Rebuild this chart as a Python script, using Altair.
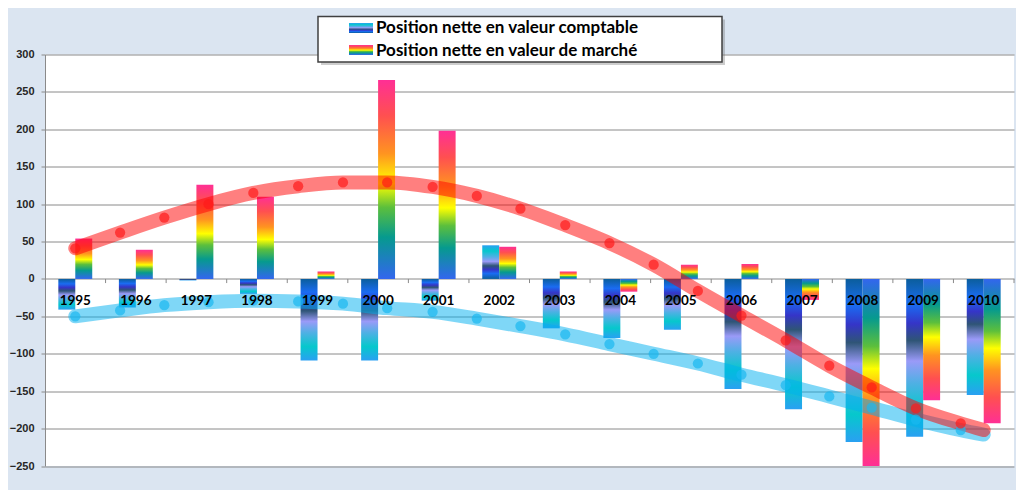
import altair as alt
import pandas as pd

# values
years = [1995, 1996, 1997, 1998, 1999, 2000, 2001, 2002,
         2003, 2004, 2005, 2006, 2007, 2008, 2009, 2010]
comptable = [-41, -38, -2, -20, -109, -109, -29, 45,
             -66, -79, -68, -147, -174, -218, -211, -155]
marche = [54, 39, 126, 110, 10, 266, 198, 43,
          10, -17, 19, 20, -28, -250, -162, -193]

# smoothed trend curves (dots along the curve)
trend_x = [1995.0, 1995.74, 1996.47, 1997.2, 1997.94, 1998.68, 1999.42, 2000.15,
           2000.9, 2001.63, 2002.35, 2003.09, 2003.82, 2004.55, 2005.28, 2006.0,
           2006.73, 2007.45, 2008.15, 2008.88, 2009.62, 2010.0]
trend_marche = [41, 62, 82, 100, 115, 124, 129, 129, 123, 111, 94, 72,
                48, 19, -16, -49, -82, -116, -145, -173, -193, -202]
trend_comptable = [-50, -42, -35, -31, -29, -30, -33, -39, -44, -53, -63, -74,
                   -87, -100, -113, -128, -142, -157, -172, -188, -202, -208]

y_ticks = [-250, -200, -150, -100, -50, 0, 50, 100, 150, 200, 250, 300]
labels = ["Position nette en valeur comptable", "Position nette en valeur de marché"]

FONT = "Lato, Liberation Sans, sans-serif"
GRID = "#8a8a8a"

BLUE_STOPS = [(0, "#0b5e9c"), (0.16, "#1a6cf2"), (0.28, "#3535c8"), (0.39, "#2f5576"),
              (0.52, "#9a9af8"), (0.66, "#4fb0e4"), (0.83, "#06c8cc"), (1, "#2aa0f2")]
RAINBOW_STOPS = [(0, "#3366ee"), (0.21, "#069a8e"), (0.36, "#5cbf3c"), (0.48, "#ffff00"),
                 (0.63, "#ff9420"), (0.82, "#ff5050"), (1, "#ff2f95")]


def gradient(stops, base_at_top):
    # gradient runs from the zero line out to the tip of the bar
    y1 = 0 if base_at_top else 1
    return alt.LinearGradient(
        gradient="linear", x1=0, x2=0, y1=y1, y2=1 - y1,
        stops=[alt.GradientStop(offset=o, color=c) for o, c in stops])


bars = pd.DataFrame({"year": years * 2,
                     "value": comptable + marche,
                     "series": ["comptable"] * 16 + ["marche"] * 16})
trend = pd.DataFrame({"x": trend_x * 2,
                      "value": trend_comptable + trend_marche,
                      "series": ["comptable"] * 22 + ["marche"] * 22})
cats = pd.DataFrame({"year": years})

x_scale = alt.Scale(domain=[1994.5, 2010.5], nice=False, zero=False)
y_scale = alt.Scale(domain=[-250, 300], nice=False)
# tickCount above the number of values, else Vega thins them out
y_axis = alt.Axis(values=y_ticks, tickCount=20, grid=True, gridColor=GRID,
                  gridWidth=1, labelOverlap=False,
                  domainColor=GRID, tickColor=GRID, tickSize=4,
                  labelFont="Liberation Sans", labelFontWeight="bold",
                  labelFontSize=11, labelColor="#262626", labelPadding=7)
y_enc = alt.Y("value:Q", scale=y_scale, axis=y_axis, title=None)

base = alt.Chart(bars)


def bar_layer(series, stops, positive, lo, hi):
    cond = "datum.value >= 0" if positive else "datum.value < 0"
    return base.transform_filter(
        f"datum.series == '{series}' && {cond}"
    ).transform_calculate(
        x0=f"datum.year + {lo}", x1=f"datum.year + {hi}"
    ).mark_bar(fill=gradient(stops, base_at_top=not positive)).encode(
        x=alt.X("x0:Q", scale=x_scale, axis=None),
        x2="x1:Q",
        y=y_enc,
        y2=alt.datum(0),
    )


bar_layers = [
    bar_layer("comptable", BLUE_STOPS, True, -0.28, 0),
    bar_layer("comptable", BLUE_STOPS, False, -0.28, 0),
    bar_layer("marche", RAINBOW_STOPS, True, 0, 0.28),
    bar_layer("marche", RAINBOW_STOPS, False, 0, 0.28),
]

ticks = alt.Chart(cats).transform_calculate(
    b="datum.year + 0.5"
).mark_rule(color=GRID).encode(
    x=alt.X("b:Q", scale=x_scale, axis=None),
    y=alt.datum(0), y2=alt.datum(-5.5))

tbase = alt.Chart(trend)


def trend_line(series, color):
    return tbase.transform_filter(f"datum.series == '{series}'").mark_line(
        color=color, strokeWidth=14, strokeCap="round", opacity=0.5,
        interpolate="monotone").encode(
        x=alt.X("x:Q", scale=x_scale, axis=None), y=y_enc)


def trend_dots(series, color):
    return tbase.transform_filter(
        f"datum.series == '{series}' && datum.x < 2010").mark_circle(
        color=color, size=105, opacity=0.7).encode(
        x=alt.X("x:Q", scale=x_scale, axis=None), y=y_enc)


year_labels = alt.Chart(cats).mark_text(
    font=FONT, fontWeight="bold", fontSize=13.5, color="black",
    baseline="middle", dy=22).encode(
    x=alt.X("year:Q", scale=x_scale, axis=None),
    y=alt.datum(0),
    text="year:N")

# hand-drawn legend box above the plot
one = alt.Chart(pd.DataFrame({"k": [0]}))
shadow = one.mark_rect(fill="#6f6f6f", opacity=0.35).encode(
    x=alt.value(276), x2=alt.value(680), y=alt.value(-35), y2=alt.value(10.5))
box = one.mark_rect(fill="white", stroke="#404040", strokeWidth=1.5).encode(
    x=alt.value(273), x2=alt.value(677), y=alt.value(-38), y2=alt.value(7.5))
sym1 = one.mark_rect(fill=gradient(BLUE_STOPS, base_at_top=False)).encode(
    x=alt.value(304), x2=alt.value(328), y=alt.value(-31.5), y2=alt.value(-21.5))
sym2 = one.mark_rect(fill=gradient(RAINBOW_STOPS, base_at_top=False)).encode(
    x=alt.value(304), x2=alt.value(328), y=alt.value(-9.5), y2=alt.value(0.5))
txt1 = one.mark_text(font=FONT, fontWeight="bold", fontSize=17, align="left",
                     baseline="alphabetic", color="black").encode(
    x=alt.value(331), y=alt.value(-21.5), text=alt.value(labels[0]))
txt2 = one.mark_text(font=FONT, fontWeight="bold", fontSize=17, align="left",
                     baseline="alphabetic", color="black").encode(
    x=alt.value(331), y=alt.value(1.5), text=alt.value(labels[1]))

chart = alt.layer(
    *bar_layers, ticks,
    trend_line("comptable", "#00b0f0"), trend_line("marche", "#ff0000"),
    trend_dots("comptable", "#1ab8f0"), trend_dots("marche", "#ff1a1a"),
    year_labels, shadow, box, sym1, sym2, txt1, txt2,
).properties(
    width=969, height=411.5, autosize="none",
    padding={"left": 37, "top": 46.5, "right": 2, "bottom": 24},
    background="#dbe5f1",
).configure_view(fill="white", stroke=None)

chart.save("out.html", embed_options={"renderer": "svg", "actions": False})
